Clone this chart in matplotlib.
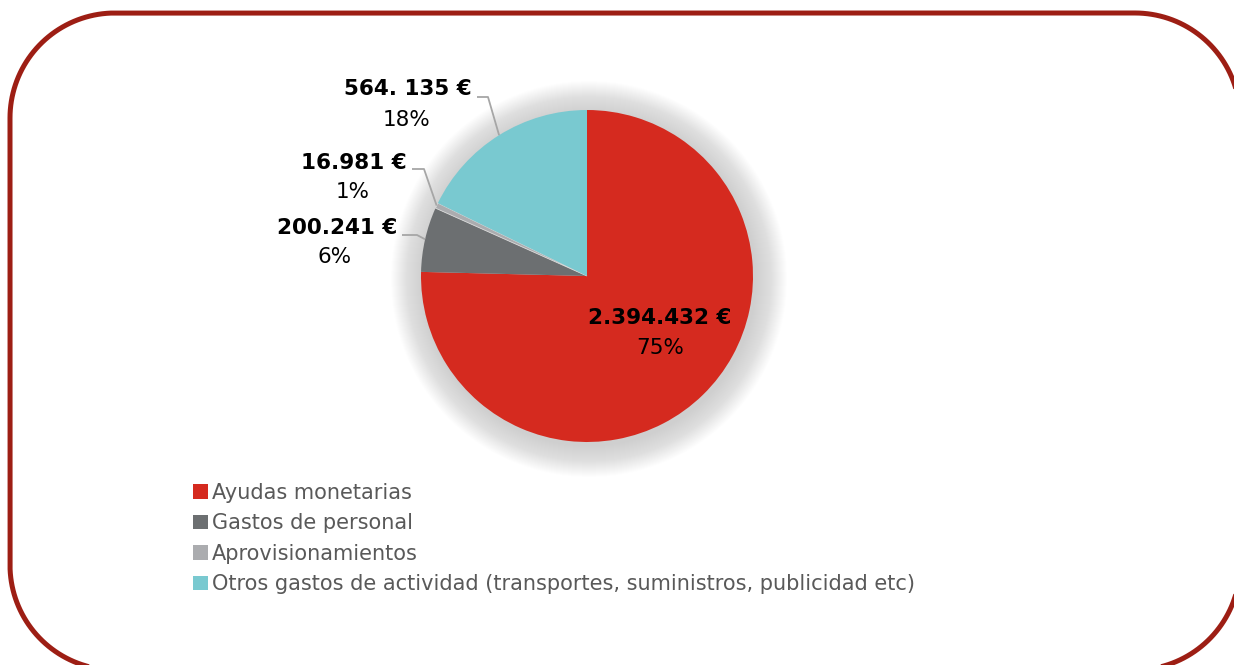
import numpy as np
import matplotlib
matplotlib.use('Agg')
import matplotlib.pyplot as plt
from matplotlib.patches import Circle

# 数据
categorias = ['Ayudas monetarias', 'Gastos de personal', 'Aprovisionamientos',
              'Otros gastos de actividad (transportes, suministros, publicidad etc)']
importes = [2394432, 200241, 16981, 564135]
etiquetas = ['2.394.432 €', '200.241 €', '16.981 €', '564. 135 €']
porcentajes = ['75%', '6%', '1%', '18%']
colores = ['#D52A1F', '#6C6F71', '#ABACAF', '#79C9D0']

W, H = 1234, 665
fig = plt.figure(figsize=(W / 100, H / 100), dpi=100)
ax = fig.add_axes([0, 0, 1, 1])

cx, cy, R = 587, H - 276, 166

# sombra suave
for k in range(32, 0, -1):
    ax.add_patch(Circle((cx + 2, cy - 3), R + k, color='#8a8a8a', alpha=0.011,
                        lw=0, zorder=1))

wedges, _ = ax.pie(importes, colors=colores, startangle=90, counterclock=False,
                   center=(cx, cy), radius=R,
                   wedgeprops=dict(linewidth=0, zorder=2))
wedges[2].set_edgecolor('#D9D9D9')
wedges[2].set_linewidth(0.6)
ax.set_xlim(0, W)
ax.set_ylim(0, H)
ax.set_aspect('equal')
ax.axis('off')

# borde redondeado (arcos circulares)
x0, x1, y0, y1, rr = 10, 1240, H - 670, H - 13, 105
t = np.linspace(0, np.pi / 2, 40)
bx = np.concatenate([x1 - rr + rr * np.cos(t), x0 + rr - rr * np.sin(t),
                     x0 + rr - rr * np.cos(t), x1 - rr + rr * np.sin(t)])
by = np.concatenate([y1 - rr + rr * np.sin(t), y1 - rr + rr * np.cos(t),
                     y0 + rr - rr * np.sin(t), y0 + rr - rr * np.cos(t)])
ax.plot(np.append(bx, bx[0]), np.append(by, by[0]), color='#9D1E14', lw=3.6,
        zorder=0, solid_joinstyle='round')

fs = 15.5
# posiciones de las etiquetas (px): centro texto importe, centro porcentaje
pos_lab = [(660, 318, 660, 348), (337, 228, 335, 257),
           (354, 163, 353, 192), (408, 89, 407, 120)]
codo = [None, (402, 417, 235), (412, 424, 169), (477, 488, 97)]

for i, w in enumerate(wedges):
    x1t, y1t, x2t, y2t = pos_lab[i]
    ax.text(x1t, H - y1t, etiquetas[i], ha='center', va='center', fontsize=fs,
            fontweight='bold', color='black', zorder=5)
    ax.text(x2t, H - y2t, porcentajes[i], ha='center', va='center', fontsize=fs,
            color='black', zorder=5)
    if codo[i] is not None:
        ang = np.deg2rad((w.theta1 + w.theta2) / 2)
        ex, ey = cx + R * np.cos(ang), cy + R * np.sin(ang)
        xa, xb, yl = codo[i]
        ax.plot([xa, xb, ex], [H - yl, H - yl, ey], color='#A6A6A6', lw=1.3,
                zorder=4, solid_capstyle='butt')

leg = fig.legend(wedges, categorias, loc='upper left',
                 bbox_to_anchor=(193 / W, 1 - 483 / H), frameon=False,
                 fontsize=15, handlelength=0.7, handleheight=0.7,
                 handletextpad=0.2, labelspacing=0.5, borderpad=0,
                 borderaxespad=0)
for t_ in leg.get_texts():
    t_.set_color('#595959')
for h in leg.legend_handles:
    h.set_edgecolor('none')
    h.set_linewidth(0)

fig.savefig('out.png', dpi=100)
